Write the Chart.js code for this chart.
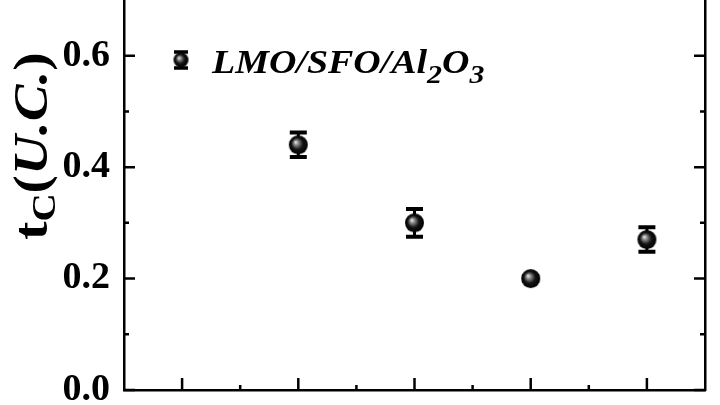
<!DOCTYPE html>
<html lang="en">
<head>
    <meta charset="UTF-8">
    <meta name="viewport" content="width=device-width, initial-scale=1.0">
    <title>t_C (U.C.)</title>
    <script src="https://cdn.jsdelivr.net/npm/chart.js"></script>
    <style>
        html, body { margin: 0; padding: 0; background: #fff; }
        #wrap { width: 720px; height: 405px; position: relative; }
    </style>
</head>
<body>
    <div id="wrap"><canvas id="myChart"></canvas></div>

    <script>
        // data
        const xValues = [2, 3, 4, 5];
        const tcValues = [0.44, 0.30, 0.20, 0.27];
        const tcErrors = [0.022, 0.025, 0.004, 0.022];
        const seriesName = 'LMO/SFO/Al2O3';

        // axis ticks
        const yTickValues = [0, 0.2, 0.4, 0.6];
        const yMinorValues = [0.1, 0.3, 0.5];
        const xTickValues = [1, 2, 3, 4, 5];
        const xMinorValues = [1.5, 2.5, 3.5, 4.5];

        const serif = '"Liberation Serif", "DejaVu Serif", serif';

        // shiny black ball used as marker
        function makeBall(r) {
            const c = document.createElement('canvas');
            c.width = c.height = r * 2 + 2;
            const g = c.getContext('2d');
            const cx = r + 1, cy = r + 1;
            const grad = g.createRadialGradient(cx - r * 0.3, cy - r * 0.3, 0, cx, cy, r);
            grad.addColorStop(0, '#f4f4f4');
            grad.addColorStop(0.25, '#8a8a8a');
            grad.addColorStop(0.6, '#141414');
            grad.addColorStop(1, '#000');
            g.fillStyle = grad;
            g.beginPath();
            g.arc(cx, cy, r, 0, Math.PI * 2);
            g.fill();
            return c;
        }
        const ball = makeBall(9.5);
        const smallBall = makeBall(7.5);

        // draw a run of text pieces, some subscripted
        function drawRuns(ctx, runs, x, y) {
            runs.forEach(r => {
                ctx.font = r.font;
                ctx.fillText(r.text, x, y + (r.shift || 0));
                x += ctx.measureText(r.text).width;
            });
        }

        const extrasPlugin = {
            id: 'extras',
            beforeDatasetsDraw(chart) {
                // error bars
                const ctx = chart.ctx;
                const xs = chart.scales.x, ys = chart.scales.y;
                ctx.save();
                ctx.strokeStyle = '#000';
                xValues.forEach((xv, i) => {
                    const px = xs.getPixelForValue(xv);
                    const top = ys.getPixelForValue(tcValues[i] + tcErrors[i]);
                    const bot = ys.getPixelForValue(tcValues[i] - tcErrors[i]);
                    ctx.lineWidth = 3;
                    ctx.beginPath();
                    ctx.moveTo(px, top); ctx.lineTo(px, bot);
                    ctx.stroke();
                    ctx.lineWidth = 4;
                    ctx.beginPath();
                    ctx.moveTo(px - 8.5, top); ctx.lineTo(px + 8.5, top);
                    ctx.moveTo(px - 8.5, bot); ctx.lineTo(px + 8.5, bot);
                    ctx.stroke();
                });
                ctx.restore();
            },
            afterDraw(chart) {
                const ctx = chart.ctx;
                const a = chart.chartArea;
                const xs = chart.scales.x, ys = chart.scales.y;
                ctx.save();
                ctx.strokeStyle = '#000';
                ctx.lineWidth = 2.5;
                ctx.beginPath();
                // inward ticks, left and right
                yTickValues.concat(yMinorValues).forEach(v => {
                    const len = yTickValues.includes(v) ? 11 : 5;
                    const py = ys.getPixelForValue(v);
                    ctx.moveTo(a.left, py); ctx.lineTo(a.left + len, py);
                    ctx.moveTo(a.right, py); ctx.lineTo(a.right - len, py);
                });
                // inward ticks, bottom
                xTickValues.concat(xMinorValues).forEach(v => {
                    const len = xTickValues.includes(v) ? 12 : 5;
                    const px = xs.getPixelForValue(v);
                    ctx.moveTo(px, a.bottom); ctx.lineTo(px, a.bottom - len);
                });
                ctx.stroke();

                // legend
                const lx = 181, ly = 60;
                ctx.lineWidth = 3.5;
                ctx.beginPath();
                ctx.moveTo(lx, ly - 8); ctx.lineTo(lx, ly + 8);
                ctx.moveTo(lx - 7, ly - 8); ctx.lineTo(lx + 7, ly - 8);
                ctx.moveTo(lx - 7, ly + 8); ctx.lineTo(lx + 7, ly + 8);
                ctx.stroke();
                ctx.drawImage(smallBall, lx - smallBall.width / 2, ly - smallBall.height / 2);

                ctx.fillStyle = '#000';
                ctx.textBaseline = 'alphabetic';
                ctx.textAlign = 'left';
                const big = 'italic bold 33px ' + serif;
                const sub = 'italic bold 26px ' + serif;
                ctx.save();
                ctx.translate(212, 73);
                ctx.scale(1.15, 1);
                drawRuns(ctx, [
                    { text: seriesName.slice(0, 10), font: big },
                    { text: '2', font: sub, shift: 10 },
                    { text: 'O', font: big },
                    { text: '3', font: sub, shift: 10 }
                ], 0, 0);
                ctx.restore();

                // y axis title, rotated
                ctx.translate(47, 240);
                ctx.rotate(-Math.PI / 2);
                ctx.scale(1.15, 1);
                drawRuns(ctx, [
                    { text: 't', font: 'bold 48px ' + serif },
                    { text: 'C', font: 'bold 34px ' + serif, shift: 8 },
                    { text: '(', font: 'bold 48px ' + serif },
                    { text: 'U.C.', font: 'italic bold 48px ' + serif },
                    { text: ')', font: 'bold 48px ' + serif }
                ], 0, 0);
                ctx.restore();
            }
        };

        // no label overflow padding: plot fills the canvas like the figure
        function noPad(s) {
            s.paddingTop = 0; s.paddingBottom = 0;
            s.paddingLeft = 0; s.paddingRight = 0;
        }

        const ctx = document.getElementById('myChart').getContext('2d');
        const myChart = new Chart(ctx, {
            type: 'scatter',
            data: {
                datasets: [{
                    label: seriesName,
                    data: xValues.map((x, i) => ({ x: x, y: tcValues[i] })),
                    pointStyle: ball,
                    pointRadius: 10,
                    pointHoverRadius: 10
                }]
            },
            options: {
                responsive: true,
                maintainAspectRatio: false,
                devicePixelRatio: 1,
                animation: false,
                events: [],
                layout: { padding: 0, autoPadding: false },
                plugins: {
                    legend: { display: false },
                    tooltip: { enabled: false }
                },
                scales: {
                    x: {
                        type: 'linear',
                        min: 0.5,
                        max: 5.5,
                        grid: { display: false, drawTicks: false },
                        border: { color: '#000', width: 2.5 },
                        ticks: { display: false },
                        afterFit: s => { s.height = 15; noPad(s); }
                    },
                    y: {
                        min: 0,
                        max: 0.7,
                        afterBuildTicks: s => { s.ticks = yTickValues.map(v => ({ value: v })); },
                        grid: { display: false, drawTicks: false },
                        border: { color: '#000', width: 2.5 },
                        ticks: {
                            color: '#000',
                            padding: 14,
                            font: { family: serif, size: 38, weight: 'bold' },
                            callback: v => v.toFixed(1)
                        },
                        afterFit: s => { s.width = 124; noPad(s); }
                    },
                    y2: {
                        position: 'right',
                        min: 0,
                        max: 0.7,
                        grid: { display: false, drawTicks: false },
                        border: { color: '#000', width: 2.5 },
                        ticks: { display: false },
                        afterFit: s => { s.width = 15; noPad(s); }
                    }
                }
            },
            plugins: [extrasPlugin]
        });
    </script>
</body>
</html>
